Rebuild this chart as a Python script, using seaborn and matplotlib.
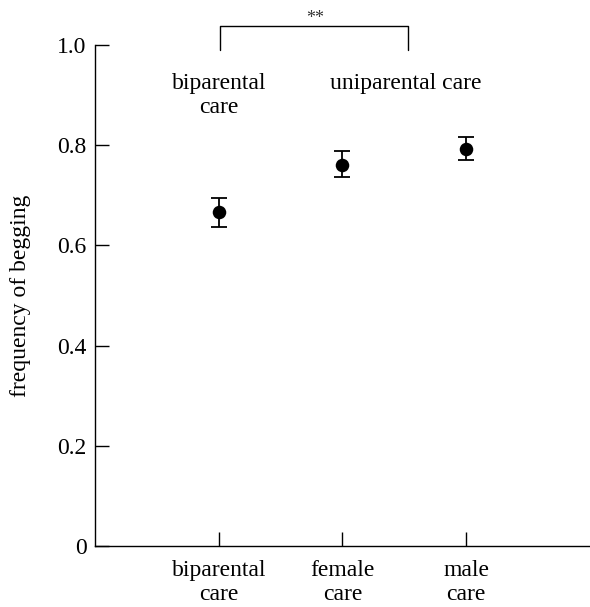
import matplotlib
matplotlib.use("Agg")
import matplotlib.pyplot as plt
import seaborn as sns
import pandas as pd
import numpy as np

categories = ["biparental\ncare", "female\ncare", "male\ncare"]
means = [0.667, 0.761, 0.792]
err_low = [0.637, 0.736, 0.771]
err_high = [0.694, 0.789, 0.816]
yticks = [0, 0.2, 0.4, 0.6, 0.8, 1.0]
ytick_labels = ["0", "0.2", "0.4", "0.6", "0.8", "1.0"]

sns.set_theme(style="ticks")
plt.rcParams['font.family'] = ['Liberation Serif', 'DejaVu Serif']
plt.rcParams['text.color'] = 'black'

df = pd.DataFrame({"care": categories, "freq": means})

fig = plt.figure(figsize=(5.9, 6.07), dpi=100)
ax = fig.add_axes([0.161, 0.1005, 0.839, 0.8255])

xpos = np.arange(len(categories))
low = np.array(means) - np.array(err_low)
high = np.array(err_high) - np.array(means)
ax.errorbar(xpos, means, yerr=[low, high], fmt="none", ecolor="black",
            elinewidth=1.3, capsize=6, capthick=1.3, zorder=2)
sns.scatterplot(data=df, x="care", y="freq", ax=ax, color="black", s=95,
                edgecolor="black", linewidth=0, zorder=3, legend=False)

ax.set_xlim(-1, 3)
ax.set_ylim(0, 1.0)
ax.set_xticks(xpos)
ax.set_xticklabels(categories, fontsize=17, linespacing=1.2)
ax.set_yticks(yticks)
ax.set_yticklabels(ytick_labels, fontsize=17)
ax.tick_params(direction="in", length=10, width=1.0, color="black", pad=6,
               labelcolor="black")
ax.tick_params(axis="x", pad=10)
ax.set_xlabel("")
ax.set_ylabel("frequency of begging", fontsize=17, labelpad=19, color="black")
for s in ["top", "right"]:
    ax.spines[s].set_visible(False)
for s in ["left", "bottom"]:
    ax.spines[s].set_color("black")
    ax.spines[s].set_linewidth(1.0)

# significance bracket
ax.plot([0.01, 0.01, 1.527, 1.527], [0.99, 1.038, 1.038, 0.99],
        color="black", lw=1.0, clip_on=False)
ax.text(0.78, 1.052, "**", ha="center", va="center", fontsize=13, color="#333333")

ax.text(0, 0.944, "biparental\ncare", ha="center", va="top", fontsize=17,
        linespacing=1.2, color="black")
ax.text(1.51, 0.944, "uniparental care", ha="center", va="top", fontsize=17,
        color="black")

fig.savefig("out.png", dpi=100)
